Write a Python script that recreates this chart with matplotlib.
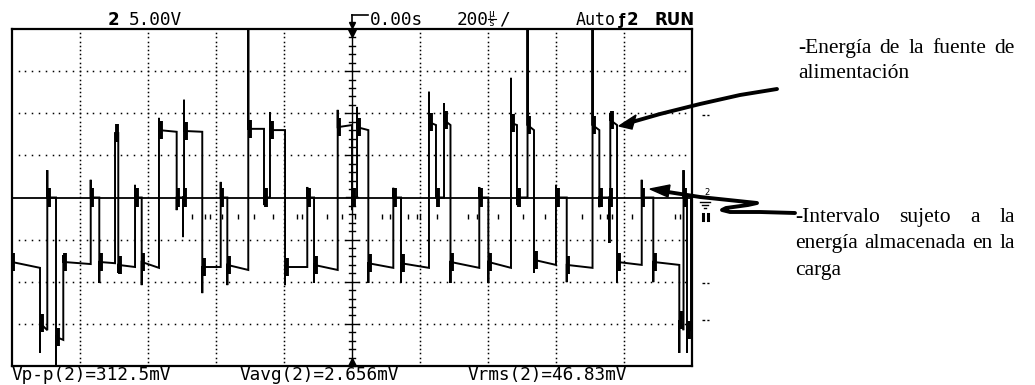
import matplotlib
matplotlib.use("Agg")
import matplotlib.pyplot as plt
import numpy as np

# Traza del canal 2 (unidades: divisiones; 200 us/div, 5 V/div)
# flancos: instante, pico del flanco, nivel al inicio y al final del tramo
start_y = 0.30
edge_x = [0.000, 0.416, 0.523, 0.651, 0.758, 1.161, 1.287, 1.518, 1.566, 1.812,
          1.910, 2.164, 2.424, 2.517, 2.532, 2.800, 3.071, 3.168, 3.476, 3.707,
          3.795, 4.016, 4.343, 4.442, 4.790, 5.000, 5.074, 5.240, 5.607, 5.720,
          6.131, 6.234, 6.352, 6.447, 6.870, 7.003, 7.336, 7.424, 7.579, 7.674,
          7.997, 8.155, 8.534, 8.634, 8.783, 8.795, 8.894, 9.257, 9.427, 9.809,
          9.871, 9.922, 9.981]
spike_y = [-1.98, -3.69, 0.65, -3.98, -1.37, 0.42, -2.03, 1.53, -1.79, 0.30,
           -2.08, 1.89, -0.30, -0.94, 2.32, -2.27, 0.37, -2.08, 4.00, -0.18,
           2.03, -2.08, 0.25, -2.03, 2.08, -0.30, 2.15, -2.03, 0.23, -2.03,
           2.51, 0.42, 2.24, -2.03, 0.25, -2.03, 2.84, -0.18, 4.00, -1.79,
           0.30, -2.01, 4.00, -0.23, -1.08, 2.01, -2.03, 0.42, -2.01, -3.69,
           0.65, -3.69, -0.60]
level_start = [-1.53, -2.98, 0.0, -3.31, -1.53, 0.0, -1.53, 1.53, -1.60, 0.0,
               -1.53, 1.60, 0.0, 0.0, 1.58, -1.65, 0.0, -1.60, 1.63, 0.0,
               1.60, -1.65, 0.0, -1.60, 1.67, 0.0, 1.67, -1.56, 0.0, -1.56,
               1.79, 0.0, 1.84, -1.53, 0.0, -1.53, 1.77, 0.0, 1.72, -1.48,
               0.0, -1.60, 1.72, 0.0, 0.0, 1.84, -1.53, 0.0, -1.53, -2.91,
               0.0, -3.15, 0.0]
level_end = [-1.67, -3.15, 0.0, -3.38, -1.58, 0.0, -1.56, 1.53, -1.65, 0.0,
             -1.67, 1.56, 0.0, 0.0, 1.56, -1.65, 0.0, -1.72, 1.63, 0.0,
             1.60, -1.65, 0.0, -1.72, 1.72, 0.0, 1.60, -1.67, 0.0, -1.67,
             1.72, 0.0, 1.72, -1.67, 0.0, -1.67, 1.72, 0.0, 1.60, -1.60,
             0.0, -1.67, 1.60, 0.0, 0.0, 1.72, -1.60, 0.0, -1.60, -3.15,
             0.0, -3.15, 0.0]

# marcas de ruido bajo la linea de base
glitch_x = [2.649, 2.840, 2.914, 3.090, 3.325, 3.560, 3.839, 4.192, 4.265, 4.633,
            4.853, 5.044, 5.440, 5.558, 5.823, 5.955, 6.000, 6.249, 6.704, 6.837,
            7.146, 7.514, 7.836, 8.380, 8.644, 8.747, 8.820, 9.114, 9.746, 9.820]

header_left = ["2", "5.00V"]
header_time = ["0.00s", "200", "/"]
header_right = ["Auto", "2", "RUN"]
measures = ["Vp-p(2)=312.5mV", "Vavg(2)=2.656mV", "Vrms(2)=46.83mV"]
note1 = [["-Energía", "de", "la", "fuente", "de"], ["alimentación"]]
note2 = [["-Intervalo", "sujeto", "a", "la"], ["energía", "almacenada", "en", "la"], ["carga"]]

W, H = 1035, 385
fig = plt.figure(figsize=(W / 100, H / 100), dpi=100)
fig.patch.set_facecolor("white")

# pantalla del osciloscopio
ax = fig.add_axes([11.7 / W, (H - 366) / H, 680.6 / W, 337 / H])
ax.set_xlim(0, 10)
ax.set_ylim(-4, 4)
ax.set_xticks([])
ax.set_yticks([])
for s in ax.spines.values():
    s.set_linewidth(1.6)
    s.set_color("black")

# reticula punteada
for gy in [-3, -2, -1, 1, 2, 3]:
    gx = np.arange(0.1, 10, 0.1)
    ax.plot(gx, np.full_like(gx, gy), ls="none", marker="s", ms=1.1, color="black", mew=0)
for gx0 in [1, 2, 3, 4, 6, 7, 8, 9]:
    gyv = np.arange(-3.9, 4, 0.1)
    ax.plot(np.full_like(gyv, gx0), gyv, ls="none", marker="s", ms=1.1, color="black", mew=0)

# ejes centrales con marcas
ax.axhline(0, color="black", lw=1.3)
ax.axvline(5, color="black", lw=1.0)
for t in np.arange(-3.8, 4, 0.2):
    major = abs(t - round(t)) < 1e-6
    hw = 0.09 if major else 0.05
    ax.plot([5 - hw, 5 + hw], [t, t], color="black", lw=1.0)

# traza
xs, ys = [edge_x[0]], [start_y]
prev = start_y
for i, x in enumerate(edge_x):
    nxt = edge_x[i + 1] if i + 1 < len(edge_x) else 10
    xs += [x, x, x, nxt]
    ys += [prev, spike_y[i], level_start[i], level_end[i]]
    prev = level_end[i]
ax.plot(xs, ys, color="black", lw=1.4, solid_joinstyle="miter")
ring_x = np.array(edge_x[:-1]) + 0.025
ring_y = np.array(level_start[:-1])
ax.vlines(ring_x, ring_y - 0.22, ring_y + 0.22, color="black", lw=2.8)
ax.vlines(glitch_x, -0.52, -0.38, color="black", lw=1.0)

# capa superpuesta en pixeles para textos y flechas
ov = fig.add_axes([0, 0, 1, 1])
ov.set_xlim(0, W)
ov.set_ylim(H, 0)
ov.axis("off")
ov.patch.set_alpha(0)

mono = dict(family="DejaVu Sans Mono", fontsize=12.8, color="black", va="baseline")
bold = dict(family="DejaVu Sans", fontsize=12, fontweight="bold", color="black", va="baseline")

ov.text(108, 25, header_left[0], **bold)
ov.text(129, 25, header_left[1], **mono)
ov.plot([352, 368], [15, 15], color="black", lw=1.2)
ov.plot([352, 352], [15, 23], color="black", lw=1.2)
ov.plot([352], [25], marker="v", ms=4, color="black")
ov.text(370, 25, header_time[0], **mono)
ov.text(457, 25, header_time[1], **mono)
ov.text(488, 17, "µ", family="DejaVu Sans Mono", fontsize=7, va="baseline")
ov.plot([488, 496], [19, 19], color="black", lw=0.8)
ov.text(488, 26, "s", family="DejaVu Sans Mono", fontsize=7, va="baseline")
ov.text(499, 25, header_time[2], **mono)
ov.text(576, 25, header_right[0], family="DejaVu Sans Mono", fontsize=12.0,
        color="black", va="baseline")
ov.text(618.5, 25, "ƒ", family="DejaVu Sans", fontsize=10.5, fontweight="bold",
        va="baseline")
ov.text(627, 25, header_right[1], **bold)
ov.text(655, 25, header_right[2], **bold)

ov.text(12, 380, measures[0], **mono)
ov.text(240, 380, measures[1], **mono)
ov.text(468, 380, measures[2], **mono)

# triangulos del eje central
ov.plot([352], [33], marker="v", ms=6, color="black")
ov.plot([352], [362], marker="^", ms=6, color="black")

# marcas fuera de pantalla
for my in [115, 283, 320]:
    ov.plot([702, 709], [my, my], color="black", lw=1.0, ls=(0, (2, 1.5)))
ov.text(704, 195, "2", family="DejaVu Sans", fontsize=6, va="baseline")
ov.plot([700, 710], [202, 202], color="black", lw=1.0)
ov.plot([702, 708], [205, 205], color="black", lw=1.0)
ov.plot([704, 706], [208, 208], color="black", lw=1.0)
ov.plot([703, 703], [214, 220], color="black", lw=2.2)
ov.plot([708, 708], [214, 220], color="black", lw=2.2)

# notas a la derecha
serif = dict(family="Liberation Serif", fontsize=15.5, color="black", va="baseline")
rend = fig.canvas.get_renderer()


def justified(words, x0, x1, y, justify=True):
    arts = [ov.text(x0, y, w, **serif) for w in words]
    widths = [a.get_window_extent(rend).width for a in arts]
    if justify and len(words) > 1:
        gap = (x1 - x0 - sum(widths)) / (len(words) - 1)
    else:
        gap = arts[0].get_window_extent(rend).height * 0.25
    x = x0
    for a, w in zip(arts, widths):
        a.set_x(x)
        x += w + gap


justified(note1[0], 798, 1015, 53)
justified(note1[1], 798, 1015, 78, justify=False)
justified(note2[0], 795, 1015, 222)
justified(note2[1], 795, 1015, 248)
justified(note2[2], 795, 1015, 275, justify=False)

# flecha 1 (curva suave)
ax1x = [777, 740, 700, 660, 632]
ax1y = [89, 95, 104, 114, 122]
ov.plot(ax1x, ax1y, color="black", lw=2.8, solid_capstyle="round")
ov.fill([619, 636, 632], [126, 115, 129], color="black")

# flecha 2 (con lazo en Z)
ax2x = [795, 760, 730, 722, 726, 748, 757, 700, 668]
ax2y = [213, 212, 212, 210, 208, 205, 203, 197, 192]
ov.plot(ax2x, ax2y, color="black", lw=2.8, solid_capstyle="round", solid_joinstyle="round")
ov.fill([650, 670, 668], [189, 185, 197], color="black")

fig.savefig("out.png", dpi=100, facecolor="white")
